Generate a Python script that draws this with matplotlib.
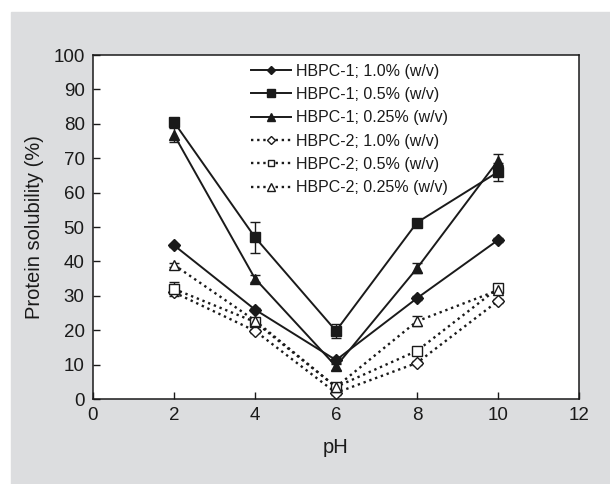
import numpy as np
import matplotlib.pyplot as plt
from matplotlib.patches import Rectangle

plt.rcParams['font.family'] = ['Liberation Sans', 'DejaVu Sans']

ph = [2, 4, 6, 8, 10]

labels = ["HBPC-1; 1.0% (w/v)", "HBPC-1; 0.5% (w/v)", "HBPC-1; 0.25% (w/v)",
          "HBPC-2; 1.0% (w/v)", "HBPC-2; 0.5% (w/v)", "HBPC-2; 0.25% (w/v)"]

h1_10 = [44.7, 26.0, 11.3, 29.3, 46.2]
h1_05 = [80.5, 47.0, 19.8, 51.3, 66.0]
h1_025 = [76.8, 35.0, 9.5, 38.0, 69.3]
h2_10 = [31.0, 19.8, 1.8, 10.5, 28.5]
h2_05 = [32.0, 22.4, 3.5, 14.0, 32.2]
h2_025 = [39.0, 22.8, 3.5, 22.6, 31.6]

err_h1_10 = [0.5, 0.5, 1.0, 0.5, 0.5]
err_h1_05 = [0.5, 4.5, 2.0, 0.5, 2.5]
err_h1_025 = [2.0, 1.0, 1.0, 1.5, 2.0]
err_h2_10 = [0.5, 0.5, 0.5, 0.5, 0.5]
err_h2_05 = [2.0, 0.5, 0.5, 0.5, 0.5]
err_h2_025 = [0.5, 0.5, 0.5, 1.5, 0.5]

series = [h1_10, h1_05, h1_025, h2_10, h2_05, h2_025]
errors = [err_h1_10, err_h1_05, err_h1_025, err_h2_10, err_h2_05, err_h2_025]
markers = ['D', 's', '^', 'D', 's', '^']
msizes = [6.5, 7.5, 7.5, 6.5, 7, 7.5]

fig = plt.figure(figsize=(6.1, 4.84), dpi=100)
bg = Rectangle((11 / 610, 0), 1 - 11 / 610, 1 - 12 / 484,
               transform=fig.transFigure, color='#dcdddf', zorder=-10)
fig.add_artist(bg)
ax = fig.add_axes([93 / 610, 1 - 399 / 484, (579 - 93) / 610, (399 - 55) / 484])
ax.set_zorder(1)
ax.set_facecolor('white')

for i in range(6):
    filled = i < 3
    ax.errorbar(ph, series[i], yerr=errors[i], color='#1a1a1a',
                linestyle='-' if filled else (0, (1, 1.6)),
                lw=1.4 if filled else 1.7,
                marker=markers[i], markersize=msizes[i],
                markerfacecolor='#1a1a1a' if filled else 'white',
                markeredgecolor='#1a1a1a', markeredgewidth=1.0,
                ecolor='#1a1a1a', elinewidth=1.0, capsize=3.5,
                label=labels[i])

ax.set_xlim(0, 12)
ax.set_ylim(0, 100)
ax.set_xticks(range(0, 13, 2))
ax.set_yticks(range(0, 101, 10))
ax.tick_params(direction='in', length=5, width=1, labelsize=13.5, colors='#1a1a1a', pad=6)
for s in ax.spines.values():
    s.set_linewidth(1.1)
    s.set_color('#1a1a1a')

ax.set_xlabel("pH", fontsize=14.5, color='#1a1a1a', labelpad=10)
ax.set_ylabel("Protein solubility (%)", fontsize=14.5, color='#1a1a1a', labelpad=7)

handles, labs = ax.get_legend_handles_labels()
handles = [h[0] for h in handles]
leg = ax.legend(handles, labs, loc='upper left', bbox_to_anchor=(0.325, 0.975),
                frameon=False, fontsize=11.5, handlelength=2.5, handletextpad=0.3,
                labelspacing=0.52, markerscale=0.7, borderaxespad=0.0,
                borderpad=0.0)
for t in leg.get_texts():
    t.set_color('#1a1a1a')

fig.savefig("out.png", dpi=100)
